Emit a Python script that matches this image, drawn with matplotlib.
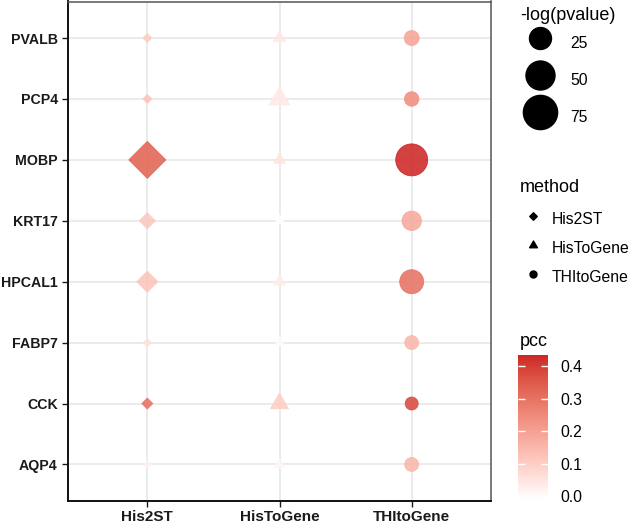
import numpy as np
import matplotlib
matplotlib.use('Agg')
import matplotlib.pyplot as plt
import matplotlib.path as mpath
from matplotlib.colors import ListedColormap, Normalize
from matplotlib.lines import Line2D

plt.rcParams['font.family'] = ['Liberation Sans', 'DejaVu Sans']

# data
genes   = ['AQP4', 'CCK', 'FABP7', 'HPCAL1', 'KRT17', 'MOBP', 'PCP4', 'PVALB']
methods = ['His2ST', 'HisToGene', 'THItoGene']

# -log(pvalue), one list per method, gene order as above
logp_his2st    = [4.7, 5.7, 4.7, 22.2, 11.4, 90.9, 4.8, 4.8]
logp_histogene = [4.7, 7.8, 4.7, 4.8, 4.7, 4.8, 10.8, 5.0]
logp_thitogene = [8.5, 7.4, 8.5, 31.1, 18.4, 63.7, 9.2, 9.9]

# pcc
pcc_his2st    = [0.02, 0.30, 0.06, 0.12, 0.11, 0.33, 0.12, 0.10]
pcc_histogene = [0.01, 0.10, 0.00, 0.03, -0.01, 0.05, 0.04, 0.04]
pcc_thitogene = [0.15, 0.38, 0.15, 0.30, 0.18, 0.435, 0.24, 0.19]

size_breaks = [25, 50, 75]
pcc_ticks = [0.0, 0.1, 0.2, 0.3, 0.4]

logp = [logp_his2st, logp_histogene, logp_thitogene]
pcc = [pcc_his2st, pcc_histogene, pcc_thitogene]

# --- colour scale: white -> firebrick3, interpolated in CIELAB like ggplot
def srgb_to_lab(rgb):
    c = np.asarray(rgb, float)
    c = np.where(c <= 0.04045, c / 12.92, ((c + 0.055) / 1.055) ** 2.4)
    M = np.array([[0.4124, 0.3576, 0.1805],
                  [0.2126, 0.7152, 0.0722],
                  [0.0193, 0.1192, 0.9505]])
    xyz = M @ c / np.array([0.95047, 1.0, 1.08883])
    f = np.where(xyz > 0.008856, np.cbrt(xyz), 7.787 * xyz + 16 / 116)
    return np.array([116 * f[1] - 16, 500 * (f[0] - f[1]), 200 * (f[1] - f[2])])

def lab_to_srgb(lab):
    L, a, b = lab
    fy = (L + 16) / 116
    f = np.array([fy + a / 500, fy, fy - b / 200])
    xyz = np.where(f ** 3 > 0.008856, f ** 3, (f - 16 / 116) / 7.787)
    xyz = xyz * np.array([0.95047, 1.0, 1.08883])
    Minv = np.array([[3.2406, -1.5372, -0.4986],
                     [-0.9689, 1.8758, 0.0415],
                     [0.0557, -0.2040, 1.0570]])
    c = Minv @ xyz
    c = np.where(c <= 0.0031308, 12.92 * c, 1.055 * np.clip(c, 0, None) ** (1 / 2.4) - 0.055)
    return np.clip(c, 0, 1)

low, high = srgb_to_lab([1, 1, 1]), srgb_to_lab([205 / 255, 38 / 255, 38 / 255])
cmap = ListedColormap([lab_to_srgb(low + t * (high - low)) for t in np.linspace(0, 1, 256)])
all_pcc = np.concatenate(pcc)
norm = Normalize(vmin=all_pcc.min(), vmax=all_pcc.max())

# --- size scale (area, range 1..6 like scale_size), returns diameter in points
all_logp = np.concatenate(logp)
def size_pt(v):
    r = (np.asarray(v, float) - all_logp.min()) / (all_logp.max() - all_logp.min())
    s = 1 + 5 * np.sqrt(r)
    return (5.85 * s + 1.94) * 0.72

diamond = mpath.Path(np.array([[-1, 0], [0, 1], [1, 0], [0, -1], [-1, 0]]), closed=True)
triangle = mpath.Path(np.array([[0, 1], [0.866, -0.5], [-0.866, -0.5], [0, 1]]), closed=True)
shapes = [diamond, triangle, 'o']
shape_scale = [1.0, 1.555, 1.0]

fig = plt.figure(figsize=(6.33, 5.24), dpi=100)
ax = fig.add_axes([68 / 633, 23 / 524, 423 / 633, 499.5 / 524])

yy = np.arange(len(genes))
for i, m in enumerate(methods):
    d = size_pt(logp[i]) * shape_scale[i]
    cols = cmap(norm(np.array(pcc[i])))
    ax.scatter(np.full(len(genes), i), yy, s=d ** 2, marker=shapes[i],
               c=cols, edgecolors=cols, linewidths=0.6, alpha=0.88, zorder=3)

ax.set_xlim(-0.6, 2.6)
ax.set_ylim(-0.6, 7.6)
ax.set_xticks(range(3))
ax.set_xticklabels(methods, fontsize=11, fontweight='bold', color='#1a1a1a')
ax.set_yticks(yy)
ax.set_yticklabels(genes, fontsize=10.2, fontweight='bold', color='#1a1a1a')
ax.tick_params(length=4.3, width=1.0, color='#1a1a1a', pad=3)
ax.tick_params(axis='x', pad=2)
ax.grid(True, color='#ebebeb', linewidth=1.4)
ax.set_axisbelow(True)
for side in ['left', 'bottom']:
    ax.spines[side].set_color('#111111')
    ax.spines[side].set_linewidth(1.4)
for side in ['top', 'right']:
    ax.spines[side].set_color('#555555')
    ax.spines[side].set_linewidth(1.1)

# --- legends
W, H = 633, 524
fig.text(520 / W, 1 - 15 / H, '-log(pvalue)', fontsize=13, va='center', ha='left')
fig.text(520 / W, 1 - 187 / H, 'method', fontsize=13, va='center', ha='left')
fig.text(520 / W, 1 - 341 / H, 'pcc', fontsize=13, va='center', ha='left')

fs = 11.3
fpx = fs / 0.72
size_handles = [Line2D([], [], marker='o', color='black', linestyle='none',
                       markersize=size_pt(b)) for b in size_breaks]
leg1 = fig.legend(size_handles, [str(b) for b in size_breaks], loc='upper left',
                  bbox_to_anchor=(522 / W, 1 - 28 / H), frameon=False, fontsize=fs,
                  borderpad=0, borderaxespad=0, handlelength=36 / fpx,
                  handleheight=2.66, labelspacing=6 / fpx, handletextpad=12 / fpx)

method_handles = [
    Line2D([], [], marker=diamond, color='black', linestyle='none', markersize=7.5 * 0.72),
    Line2D([], [], marker=triangle, color='black', linestyle='none', markersize=9.0 * 0.72),
    Line2D([], [], marker='o', color='black', linestyle='none', markersize=7.0 * 0.72),
]
leg2 = fig.legend(method_handles, methods, loc='upper left',
                  bbox_to_anchor=(522 / W, 1 - 208 / H), frameon=False, fontsize=fs,
                  borderpad=0, borderaxespad=0, handlelength=22 / fpx,
                  handleheight=1.78, labelspacing=7 / fpx, handletextpad=8 / fpx)

top_px = 355
bot_px = 496 + (0 - norm.vmin) * 322.5
cax = fig.add_axes([518 / W, 1 - bot_px / H, 30 / W, (bot_px - top_px) / H])
cb = fig.colorbar(plt.cm.ScalarMappable(norm=norm, cmap=cmap), cax=cax, ticks=pcc_ticks)
cb.outline.set_visible(False)
cax.set_yticklabels([f'{t:.1f}' for t in pcc_ticks])
cax.tick_params(direction='in', color='white', length=5, width=1, left=True, right=True,
                labelsize=fs, pad=9)

fig.savefig('out.png', dpi=100)
